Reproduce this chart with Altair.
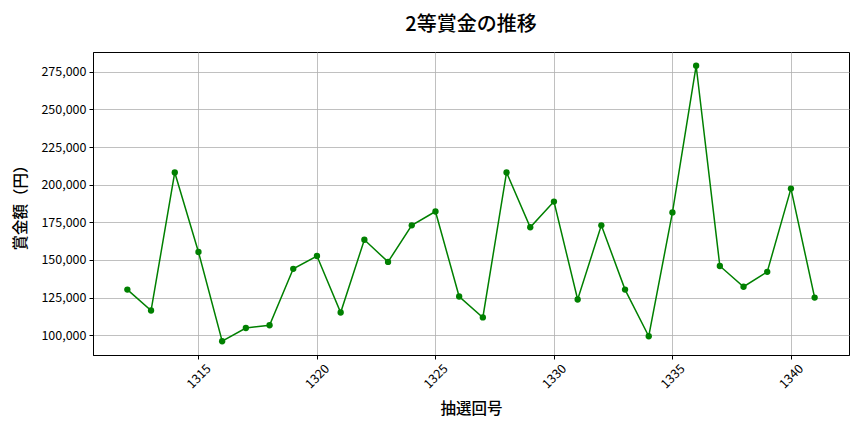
import altair as alt
import pandas as pd

draws = list(range(1312, 1342))
prizes = [130300, 116400, 208100, 155300, 96000, 104800, 106600, 144100, 152600, 115100,
          163400, 148700, 173000, 182200, 125700, 111800, 208100, 171700, 188800, 123700,
          173000, 130300, 99300, 181600, 279000, 146000, 132200, 142100, 197400, 125000]
x_ticks = [1315, 1320, 1325, 1330, 1335, 1340]
y_ticks = [100000, 125000, 150000, 175000, 200000, 225000, 250000, 275000]

df = pd.DataFrame({"draw": draws, "prize": prizes})

FONT = "Noto Sans CJK JP"
W, H = 756, 303

base = alt.Chart(df).encode(
    x=alt.X("draw:Q",
            scale=alt.Scale(domain=[1310.55, 1342.45], nice=False, zero=False),
            axis=alt.Axis(values=x_ticks, format="d", labelAngle=-45, labelAlign="center",
                          labelBaseline="middle", labelPadding=17, tickSize=4,
                          title="抽選回号", titleFontSize=15.5, titleFontWeight=500,
                          titleY=53, titleBaseline="middle", titleColor="black")),
    y=alt.Y("prize:Q",
            scale=alt.Scale(domain=[86850, 288150], nice=False, zero=False),
            axis=alt.Axis(values=y_ticks, format=",d", tickSize=4, labelPadding=3,
                          title="賞金額（円）", titleFontSize=15.5, titleFontWeight=500,
                          titleX=-73, titleY=H / 2, titleAngle=-90, titleBaseline="middle",
                          titleAlign="center", titleColor="black")),
)

line = base.mark_line(color="#008000", strokeWidth=1.5)
pts = base.mark_circle(color="#008000", size=40, opacity=1)

chart = (line + pts).properties(
    width=W, height=H,
    title=alt.TitleParams("2等賞金の推移", fontSize=20, fontWeight=500, font=FONT,
                          anchor="middle", offset=17, color="black"),
    autosize=alt.AutoSizeParams(type="none"),
    padding={"left": 85, "top": 44, "right": 7, "bottom": 70},
).configure_axis(
    labelFont=FONT, titleFont=FONT, labelFontSize=12.5, labelColor="black",
    domainColor="black", tickColor="black", gridColor="#b0b0b0", gridWidth=0.8,
    domainWidth=1, tickWidth=1, grid=True,
).configure_view(stroke="black", strokeWidth=1)

chart.save("out.html", embed_options={"renderer": "svg", "actions": False})
